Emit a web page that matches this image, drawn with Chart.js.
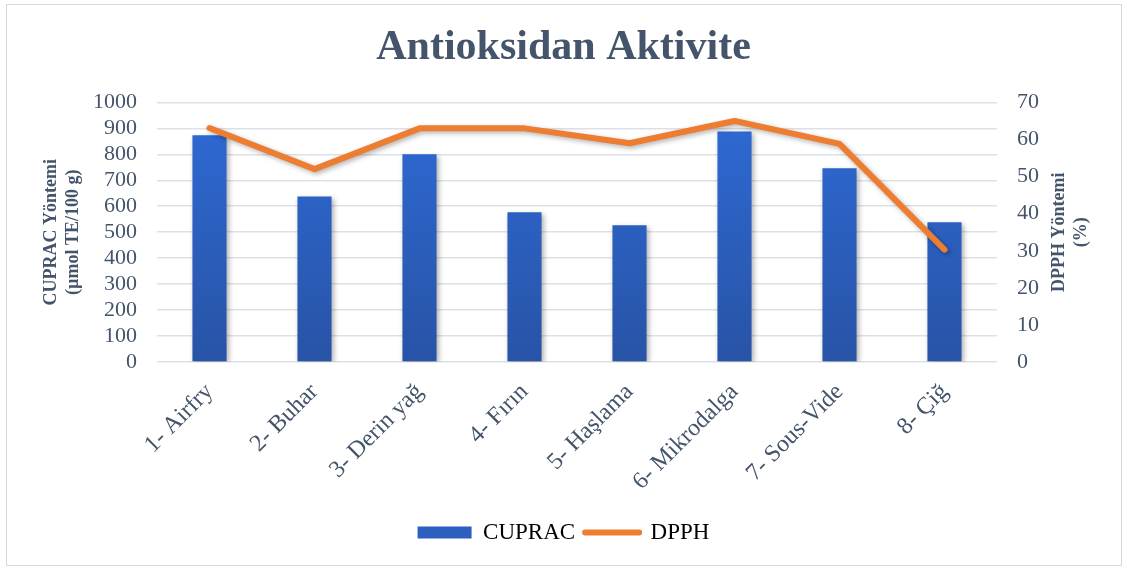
<!DOCTYPE html>
<html>
<head>
<meta charset="utf-8">
<script src="https://cdn.jsdelivr.net/npm/chart.js@4.4.1/dist/chart.umd.min.js"></script>
<style>
  html, body { margin: 0; padding: 0; background: #fff; }
  #wrap { width: 1127px; height: 570px; }
</style>
</head>
<body>
<div id="wrap"><canvas id="comboChart"></canvas></div>
<script>
const categories = ["1- Airfry", "2- Buhar", "3- Derin yağ", "4- Fırın", "5- Haşlama", "6- Mikrodalga", "7- Sous-Vide", "8- Çiğ"];
const cupracValues = [873, 638, 800, 577, 527, 888, 746, 538];
const dpphValues = [63.1, 52.0, 63.0, 63.0, 59.0, 65.0, 58.8, 30.3];
const cupracTicks = [0, 1000, 100];
const dpphTicks = [0, 70, 10];

const textColor = "#44546a";
const gridColor = "#dde1e7";
const orange = "#ed7d31";

Chart.defaults.font.family = "'Liberation Serif', 'Times New Roman', serif";
Chart.defaults.color = textColor;

function barGradient(context) {
  const chart = context.chart;
  const area = chart.chartArea;
  if (!area) return "#2d68d0";
  const g = chart.ctx.createLinearGradient(0, area.top, 0, area.bottom);
  g.addColorStop(0, "#2e6bd6");
  g.addColorStop(1, "#2853a6");
  return g;
}

// frame round the whole picture
const framePlugin = {
  id: "frame",
  beforeDraw(chart) {
    const ctx = chart.ctx;
    ctx.save();
    ctx.fillStyle = "#fff";
    ctx.fillRect(0, 0, chart.width, chart.height);
    ctx.strokeStyle = "#d9d9d9";
    ctx.lineWidth = 1;
    ctx.strokeRect(6.5, 4.5, 1115, 561);
    ctx.restore();
  },
};

// soft shadow under bars and line
const shadowPlugin = {
  id: "shadow",
  beforeDatasetDraw(chart) {
    const ctx = chart.ctx;
    ctx.save();
    ctx.shadowColor = "rgba(0,0,0,0.3)";
    ctx.shadowBlur = 5;
    ctx.shadowOffsetX = 2;
    ctx.shadowOffsetY = 2;
  },
  afterDatasetDraw(chart) {
    chart.ctx.restore();
  },
};

// axis titles, both read bottom to top
const axisTitlePlugin = {
  id: "axisTitles",
  afterDraw(chart) {
    const ctx = chart.ctx;
    const a = chart.chartArea;
    const cy = (a.top + a.bottom) / 2;
    const draw = (x, lines) => {
      ctx.save();
      ctx.translate(x, cy);
      ctx.rotate(-Math.PI / 2);
      ctx.font = "bold 18px 'Liberation Serif', serif";
      ctx.fillStyle = textColor;
      ctx.textAlign = "center";
      ctx.textBaseline = "middle";
      lines.forEach((t, i) => ctx.fillText(t, 0, (i - (lines.length - 1) / 2) * 22));
      ctx.restore();
    };
    draw(62, ["CUPRAC Yöntemi", "(µmol TE/100 g)"]);
    draw(1070, ["DPPH Yöntemi", "(%)"]);
  },
};

const ctx = document.getElementById("comboChart");
new Chart(ctx, {
  data: {
    labels: categories,
    datasets: [
      {
        type: "line",
        label: "DPPH",
        data: dpphValues,
        yAxisID: "y1",
        borderColor: orange,
        backgroundColor: orange,
        borderWidth: 6,
        borderCapStyle: "round",
        borderJoinStyle: "round",
        pointRadius: 0,
        tension: 0,
        order: 0,
      },
      {
        type: "bar",
        label: "CUPRAC",
        data: cupracValues,
        yAxisID: "y",
        backgroundColor: barGradient,
        categoryPercentage: 1,
        barPercentage: 0.325,
        order: 1,
      },
    ],
  },
  options: {
    responsive: true,
    maintainAspectRatio: false,
    animation: false,
    layout: { padding: { left: 0, right: 0, top: 0, bottom: 16 } },
    plugins: {
      tooltip: { enabled: false },
      title: {
        display: true,
        text: "Antioksidan Aktivite",
        color: textColor,
        font: { size: 42, weight: "bold" },
        padding: { top: 23, bottom: 29 },
      },
      legend: {
        position: "bottom",
        labels: {
          usePointStyle: true,
          pointStyleWidth: 54,
          boxHeight: 12,
          padding: 10,
          color: textColor,
          font: { size: 23 },
          generateLabels() {
            return [
              { text: "CUPRAC", fillStyle: "#2c5fc0", strokeStyle: "#2c5fc0", lineWidth: 0, pointStyle: "rect", datasetIndex: 1 },
              { text: "DPPH", fillStyle: orange, strokeStyle: orange, lineWidth: 6, lineCap: "round", pointStyle: "line", datasetIndex: 0 },
            ];
          },
        },
      },
    },
    scales: {
      x: {
        grid: { display: false },
        border: { display: false },
        ticks: {
          maxRotation: 45,
          minRotation: 45,
          padding: 8,
          color: textColor,
          font: { size: 24 },
        },
        afterFit(scale) { scale.height = 149; },
      },
      y: {
        position: "left",
        min: cupracTicks[0],
        max: cupracTicks[1],
        ticks: {
          stepSize: cupracTicks[2],
          autoSkip: false,
          padding: 20,
          color: textColor,
          font: { size: 22 },
          callback: (v) => String(v),
        },
        grid: { color: gridColor, lineWidth: 1.5, drawTicks: false },
        border: { display: false },
        afterFit(scale) { scale.width = 157; },
      },
      y1: {
        position: "right",
        min: dpphTicks[0],
        max: dpphTicks[1],
        ticks: {
          stepSize: dpphTicks[2],
          autoSkip: false,
          padding: 20,
          color: textColor,
          font: { size: 22 },
          callback: (v) => String(v),
        },
        grid: { display: false, drawTicks: false },
        border: { display: false },
        afterFit(scale) { scale.width = 130; },
      },
    },
  },
  plugins: [framePlugin, shadowPlugin, axisTitlePlugin],
});
</script>
</body>
</html>
